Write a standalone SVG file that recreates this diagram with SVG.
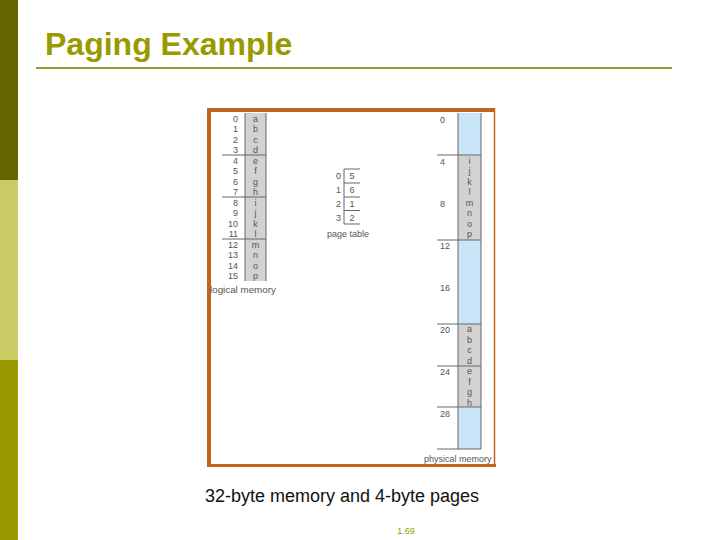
<svg xmlns="http://www.w3.org/2000/svg" width="720" height="540" viewBox="0 0 720 540">
<style>
.t{font-family:"Liberation Sans",Arial,sans-serif;font-size:9px;fill:#555}
.c{text-anchor:middle}
.r{text-anchor:end}
.ln{stroke:#666;stroke-width:1;fill:none}
.gray{fill:#d2d2d2}
.blue{fill:#c8e6f8}
</style>
<rect width="720" height="540" fill="#fff"/>
<g id="sidebar">
<rect x="0" y="0" width="18" height="180" fill="#666600"/>
<rect x="0" y="180" width="18" height="180" fill="#cccc66"/>
<rect x="0" y="360" width="18" height="180" fill="#999900"/>
</g>
<g id="title">
<text x="45" y="55" font-family="Liberation Sans,Arial,sans-serif" font-size="32" font-weight="bold" fill="#999900">Paging Example</text>
<line x1="36" y1="68" x2="672" y2="68" stroke="#999933" stroke-width="2"/>
</g>
<g id="frame">
<rect x="209" y="110" width="285" height="356" fill="#fff"/>
<line x1="209" y1="108" x2="209" y2="467" stroke="#c0661c" stroke-width="4"/>
<line x1="207" y1="110" x2="495" y2="110" stroke="#c0661c" stroke-width="4"/>
<line x1="207" y1="465.5" x2="496" y2="465.5" stroke="#c0661c" stroke-width="3"/>
<line x1="494.5" y1="108" x2="494.5" y2="467" stroke="#c0661c" stroke-width="1.5"/>
</g>
<g id="logical-memory">
<rect class="gray" x="245" y="113" width="21" height="168"/>
<line class="ln" x1="245" y1="113" x2="245" y2="281"/>
<line class="ln" x1="266" y1="113" x2="266" y2="281"/>
<line class="ln" x1="222" y1="155" x2="266" y2="155"/>
<line class="ln" x1="222" y1="197" x2="266" y2="197"/>
<line class="ln" x1="222" y1="239" x2="266" y2="239"/>
<g class="t r">
<text x="238" y="121.5">0</text><text x="238" y="132">1</text><text x="238" y="142.5">2</text><text x="238" y="153">3</text>
<text x="238" y="163.5">4</text><text x="238" y="174">5</text><text x="238" y="184.5">6</text><text x="238" y="195">7</text>
<text x="238" y="205.5">8</text><text x="238" y="216">9</text><text x="238" y="226.5">10</text><text x="238" y="237">11</text>
<text x="238" y="247.5">12</text><text x="238" y="258">13</text><text x="238" y="268.5">14</text><text x="238" y="279">15</text>
</g>
<g class="t c">
<text x="255.5" y="121.5">a</text><text x="255.5" y="132">b</text><text x="255.5" y="142.5">c</text><text x="255.5" y="153">d</text>
<text x="255.5" y="163.5">e</text><text x="255.5" y="174">f</text><text x="255.5" y="184.5">g</text><text x="255.5" y="195">h</text>
<text x="255.5" y="205.5">i</text><text x="255.5" y="216">j</text><text x="255.5" y="226.5">k</text><text x="255.5" y="237">l</text>
<text x="255.5" y="247.5">m</text><text x="255.5" y="258">n</text><text x="255.5" y="268.5">o</text><text x="255.5" y="279">p</text>
</g>
<text class="t" x="210" y="293" style="font-size:9.8px">logical memory</text>
</g>
<g id="page-table">
<line class="ln" x1="344" y1="169" x2="344" y2="224"/>
<line class="ln" x1="344" y1="169" x2="360" y2="169"/>
<line class="ln" x1="344" y1="183" x2="360" y2="183"/>
<line class="ln" x1="344" y1="197" x2="360" y2="197"/>
<line class="ln" x1="344" y1="210.5" x2="360" y2="210.5"/>
<line class="ln" x1="344" y1="224" x2="360" y2="224"/>
<g class="t c">
<text x="338.5" y="179">0</text><text x="338.5" y="193">1</text><text x="338.5" y="207">2</text><text x="338.5" y="220.5">3</text>
<text x="352" y="179">5</text><text x="352" y="193">6</text><text x="352" y="207">1</text><text x="352" y="220.5">2</text>
</g>
<text class="t c" x="348" y="237">page table</text>
</g>
<g id="physical-memory">
<rect class="blue" x="458" y="113" width="23" height="336"/>
<rect class="gray" x="458" y="155" width="23" height="85"/>
<rect class="gray" x="458" y="324" width="23" height="83"/>
<line class="ln" x1="458" y1="113" x2="458" y2="449"/>
<line class="ln" x1="481" y1="113" x2="481" y2="449"/>
<line class="ln" x1="437" y1="155" x2="481" y2="155"/>
<line class="ln" x1="437" y1="240" x2="481" y2="240"/>
<line class="ln" x1="437" y1="324" x2="481" y2="324"/>
<line class="ln" x1="437" y1="366" x2="481" y2="366"/>
<line class="ln" x1="437" y1="407" x2="481" y2="407"/>
<line class="ln" x1="437" y1="449" x2="481" y2="449"/>
<g class="t">
<text x="440" y="123">0</text><text x="440" y="165">4</text><text x="440" y="207">8</text><text x="440" y="249">12</text>
<text x="440" y="291">16</text><text x="440" y="333">20</text><text x="440" y="375">24</text><text x="440" y="417">28</text>
</g>
<g class="t c">
<text x="469.5" y="163.5">i</text><text x="469.5" y="174">j</text><text x="469.5" y="184.5">k</text><text x="469.5" y="195">l</text>
<text x="469.5" y="205.5">m</text><text x="469.5" y="216">n</text><text x="469.5" y="226.5">o</text><text x="469.5" y="237">p</text>
<text x="469.5" y="332">a</text><text x="469.5" y="342.5">b</text><text x="469.5" y="353">c</text><text x="469.5" y="363.5">d</text>
<text x="469.5" y="374">e</text><text x="469.5" y="384.5">f</text><text x="469.5" y="395">g</text><text x="469.5" y="405.5">h</text>
</g>
<text class="t" x="424" y="462">physical memory</text>
</g>
<g id="connectors"/>
<text x="342" y="502" text-anchor="middle" font-family="Liberation Sans,Arial,sans-serif" font-size="18" fill="#111">32-byte memory and 4-byte pages</text>
<text x="406" y="534" text-anchor="middle" font-family="Liberation Sans,Arial,sans-serif" font-size="9" fill="#999900">1.69</text>
</svg>
